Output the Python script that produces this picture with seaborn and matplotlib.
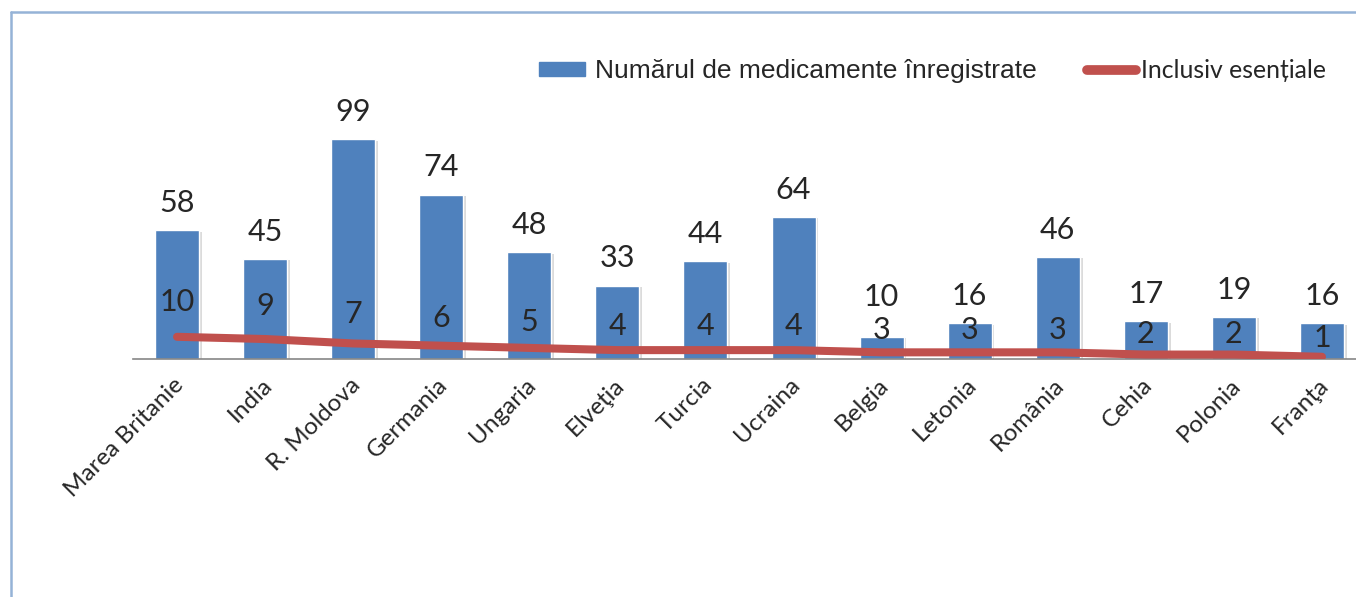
import numpy as np
import matplotlib
matplotlib.use("Agg")
import matplotlib.pyplot as plt
import matplotlib.patheffects as pe
import matplotlib.transforms as mtransforms
from matplotlib.lines import Line2D
from matplotlib.patches import Patch
import seaborn as sns

# data
countries = ['Marea Britanie', 'India', 'R. Moldova', 'Germania', 'Ungaria', 'Elveţia', 'Turcia',
             'Ucraina', 'Belgia', 'Letonia', 'România', 'Cehia', 'Polonia', 'Franţa']
registered = [58, 45, 99, 74, 48, 33, 44, 64, 10, 16, 46, 17, 19, 16]
essential = [10, 9, 7, 6, 5, 4, 4, 4, 3, 3, 3, 2, 2, 1]

bar_name = 'Numărul de medicamente înregistrate'
line_name = 'Inclusiv esențiale'

blue = '#4F81BD'
red = '#C0504D'

sns.set_style('white')
plt.rcParams['font.family'] = ['Lato', 'DejaVu Sans']

W, H = 1356, 597
fig = plt.figure(figsize=(W / 100, H / 100), dpi=100)
ax = fig.add_axes([133 / W, (H - 359) / H, 1233 / W, 222 / H])

x = np.arange(len(countries))
sns.barplot(x=countries, y=registered, color=blue, width=0.5, saturation=1, ax=ax)
for bar in ax.patches:
    bar.set_path_effects([pe.SimplePatchShadow(offset=(2, -1), shadow_rgbFace='#999999', alpha=0.35), pe.Normal()])
sns.lineplot(x=x, y=essential, color=red, linewidth=5.8, solid_capstyle='round', ax=ax, zorder=3)

# value labels: line labels sit above the line, bar labels above the bar (pushed up if they'd collide)
for i, (b, v) in enumerate(zip(registered, essential)):
    y_line = 7.7 + 1.8 * v
    y_bar = max(b + 12.3, y_line + 15)
    ax.text(i, y_line, str(v), ha='center', va='center', fontsize=22, zorder=4)
    ax.text(i, y_bar, str(b), ha='center', va='center', fontsize=22, zorder=4)

ax.set_xlim(-0.5, 13.5)
ax.set_ylim(0, 100)
ax.set_yticks([])
ax.set_xlabel('')
ax.set_ylabel('')
for s in ['top', 'right', 'left']:
    ax.spines[s].set_visible(False)
ax.spines['bottom'].set_color('#868686')
ax.spines['bottom'].set_linewidth(1.2)
ax.tick_params(axis='x', length=0, pad=11)
ax.set_xticks(x)
ax.set_xticklabels(countries, rotation=45, ha='right', rotation_mode='anchor', fontsize=17.5)
shift = mtransforms.ScaledTranslation(-4 / 100, 0, fig.dpi_scale_trans)
for lab in ax.get_xticklabels():
    lab.set_transform(lab.get_transform() + shift)

# legend, two parts with their own fonts
leg1 = fig.legend(handles=[Patch(color=blue)], labels=[bar_name], loc='center left',
                  bbox_to_anchor=(539 / W, 1 - 71 / H), frameon=False, borderpad=0, borderaxespad=0,
                  handlelength=1.73, handleheight=0.45, handletextpad=0.38,
                  prop={'family': 'Liberation Sans', 'size': 19})
leg2 = fig.legend(handles=[Line2D([], [], color=red, lw=7, solid_capstyle='round')], labels=[line_name],
                  loc='center left', bbox_to_anchor=(1087 / W, 1 - 71 / H), frameon=False, borderpad=0,
                  borderaxespad=0, handlelength=2.0, handletextpad=0.2,
                  prop={'family': 'Lato', 'size': 17.8})

# light blue frame of the chart area
frame = '#95B3D7'
fig.add_artist(Line2D([11 / W, 11 / W], [0, 1 - 12 / H], color=frame, lw=1.8, transform=fig.transFigure))
fig.add_artist(Line2D([11 / W, 1], [1 - 12 / H, 1 - 12 / H], color=frame, lw=1.8, transform=fig.transFigure))

fig.savefig('out.png', dpi=100)
